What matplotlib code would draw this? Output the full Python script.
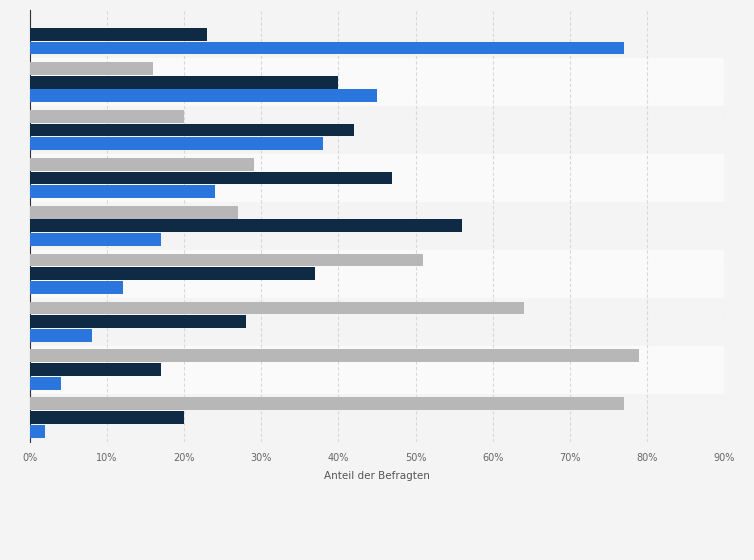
import matplotlib
matplotlib.use("Agg")
import matplotlib.pyplot as plt
import numpy as np

groups = list(range(9))
gray_vals = [0, 16, 20, 29, 27, 51, 64, 79, 77]
navy_vals = [23, 40, 42, 47, 56, 37, 28, 17, 20]
blue_vals = [77, 45, 38, 24, 17, 12, 8, 4, 2]
ticks = list(range(0, 100, 10))
tick_labels = [f"{t}%" for t in ticks]

fig = plt.figure(figsize=(7.54, 5.60), dpi=100, facecolor="#f4f4f4")
ax = fig.add_axes([0.0398, 0.211, 0.9204, 0.771])
ax.set_facecolor("#f4f4f4")
y = np.array(groups)
for i in groups:
    if i % 2 == 1:
        ax.axhspan(i - 0.5, i + 0.5, color="#fafafa", zorder=0, lw=0)
h = 0.27
ax.barh(y - 0.29, gray_vals, height=h, color="#b7b7b7", zorder=3)
ax.barh(y, navy_vals, height=h, color="#0f2a44", zorder=3)
ax.barh(y + 0.29, blue_vals, height=h, color="#2a76dd", zorder=3)
ax.set_ylim(8.5, -0.5)
ax.set_xlim(0, 90)
ax.set_xticks(ticks)
ax.set_xticklabels(tick_labels, fontsize=7, color="#666666")
ax.set_yticks([])
ax.grid(axis="x", color="#d8d8d8", linestyle=(0, (3, 2)), lw=0.8, zorder=1)
for s in ["top", "right", "bottom"]:
    ax.spines[s].set_visible(False)
ax.spines["left"].set_color("#333333")
ax.tick_params(axis="x", length=0, pad=8)
ax.set_xlabel("Anteil der Befragten", fontsize=7.5, color="#555555", labelpad=6)
fig.savefig("out.png", dpi=100, facecolor=fig.get_facecolor())
